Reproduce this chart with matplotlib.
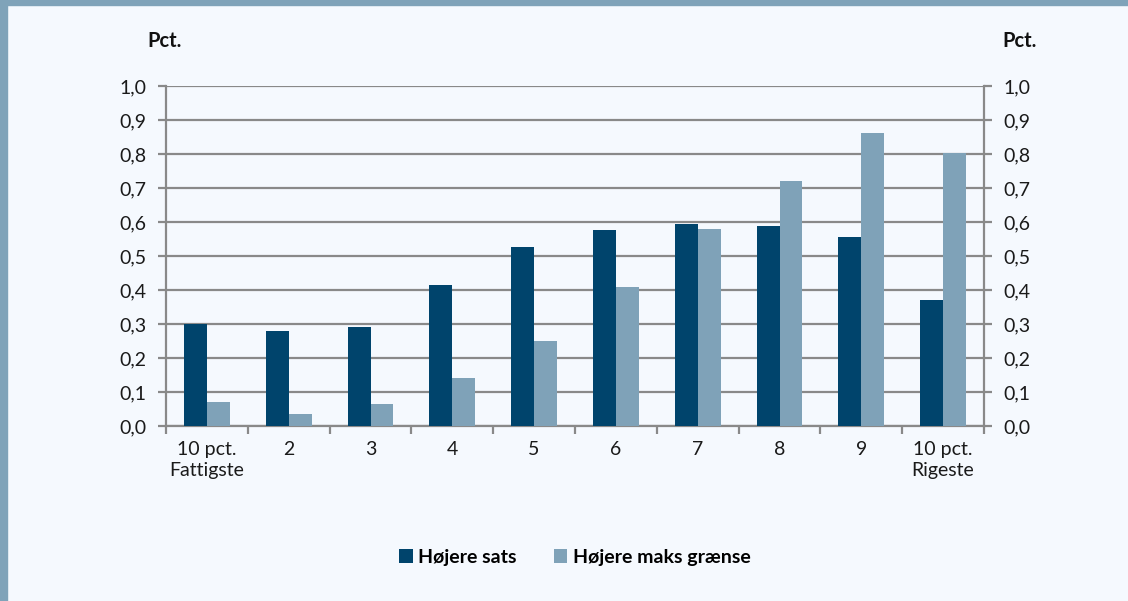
import matplotlib
matplotlib.use("Agg")
import matplotlib.pyplot as plt
from matplotlib.patches import Rectangle
import numpy as np

categories = ["10 pct.\nFattigste", "2", "3", "4", "5", "6", "7", "8", "9", "10 pct.\nRigeste"]
hojere_sats = [0.30, 0.28, 0.29, 0.415, 0.525, 0.575, 0.595, 0.587, 0.557, 0.372]
hojere_maks = [0.07, 0.035, 0.065, 0.142, 0.25, 0.41, 0.578, 0.72, 0.862, 0.802]
series_names = ["Højere sats", "Højere maks grænse"]
ytick_vals = [0.0, 0.1, 0.2, 0.3, 0.4, 0.5, 0.6, 0.7, 0.8, 0.9, 1.0]

DARK = "#00446c"
LIGHT = "#7fa2b8"
BG = "#f5f9fe"
GRID = "#898989"
BORDER = "#7fa3b9"

plt.rcParams['font.family'] = ['Lato', 'DejaVu Sans']

fig = plt.figure(figsize=(11.28, 6.01), dpi=100, facecolor=BG)
W, H = 1128, 601
fig.patches.append(Rectangle((0, 0), 7 / W, 1, transform=fig.transFigure, color=BORDER, zorder=0))
fig.patches.append(Rectangle((0, 1 - 5 / H), 1, 5 / H, transform=fig.transFigure, color=BORDER, zorder=0))

ax = fig.add_axes([166 / W, (H - 426) / H, (984 - 166) / W, (426 - 86) / H])
ax.set_facecolor(BG)

x = np.arange(len(categories))
bw = 0.28
ax.bar(x - bw / 2, hojere_sats, bw, color=DARK, label=series_names[0], zorder=3)
ax.bar(x + bw / 2, hojere_maks, bw, color=LIGHT, label=series_names[1], zorder=3)

ax.set_xlim(-0.5, len(categories) - 0.5)
ax.set_ylim(0, 1.0)
ax.set_yticks(ytick_vals)
ax.set_yticklabels([f"{v:.1f}".replace(".", ",") for v in ytick_vals])
ax.yaxis.grid(True, color=GRID, linewidth=1.6, zorder=0)
ax.set_axisbelow(True)

ax.set_xticks(x)
ax.set_xticklabels(categories, linespacing=1.25)
ax.set_xticks(np.arange(-0.5, len(categories), 1.0), minor=True)
ax.tick_params(axis='x', which='major', length=0, pad=11, labelsize=14, colors='#1a1a1a')
ax.tick_params(axis='x', which='minor', length=6, width=1.6, color=GRID, direction='out')
ax.tick_params(axis='y', which='major', length=6, width=1.6, color=GRID, direction='out',
               labelsize=14, labelcolor='#1a1a1a', left=True, right=True,
               labelleft=True, labelright=True, pad=8)

ax.spines['top'].set_visible(False)
for s in ['left', 'right', 'bottom']:
    ax.spines[s].set_color(GRID)
    ax.spines[s].set_linewidth(1.6)

fig.text(165 / W, 1 - 41 / H, "Pct.", ha='center', va='center', fontsize=14.5, fontweight='bold', color='#111')
fig.text(1020 / W, 1 - 41 / H, "Pct.", ha='center', va='center', fontsize=14.5, fontweight='bold', color='#111')

leg = fig.legend(loc='center', bbox_to_anchor=(575 / W, 1 - 557 / H), ncol=2, frameon=False,
                 prop={'weight': 'bold', 'size': 14}, handlelength=0.7, handleheight=0.7,
                 handletextpad=0.3, columnspacing=1.9)

fig.savefig("out.png", dpi=100, facecolor=BG)
